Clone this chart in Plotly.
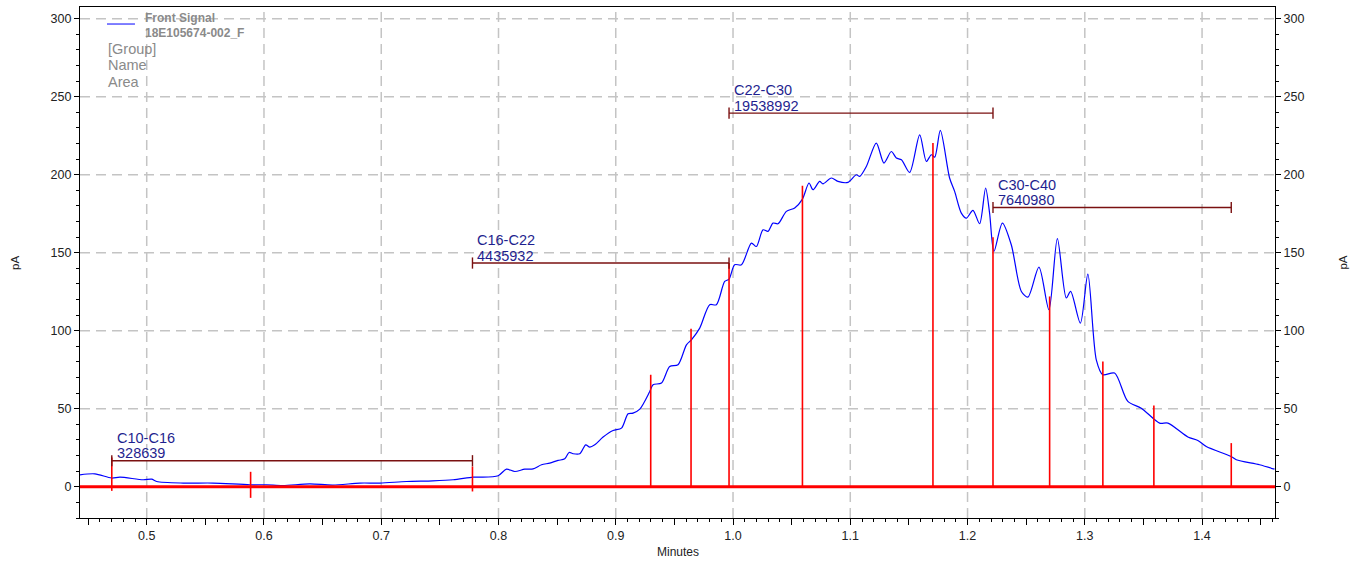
import plotly.graph_objects as go

# Front signal trace (retention time in minutes, detector response in pA)
times = [0.4431, 0.4558, 0.4701, 0.4772, 0.4970, 0.5042, 0.5085, 0.5311, 0.5564, 0.5880,
         0.6022, 0.6161, 0.6391, 0.6587, 0.6818, 0.6988, 0.7216, 0.7440, 0.7613, 0.7783,
         0.7841, 0.7997, 0.8068, 0.8139, 0.8224, 0.8295, 0.8367, 0.8437, 0.8508, 0.8565,
         0.8602, 0.8636, 0.8693, 0.8744, 0.8778, 0.8821, 0.8892, 0.8977, 0.9049, 0.9105,
         0.9147, 0.9205, 0.9290, 0.9318, 0.9390, 0.9460, 0.9531, 0.9603, 0.9645, 0.9716,
         0.9801, 0.9858, 0.9929, 0.9966, 1.0014, 1.0072, 1.0157, 1.0199, 1.0256, 1.0298,
         1.0341, 1.0384, 1.0455, 1.0526, 1.0592, 1.0648, 1.0682, 1.0739, 1.0767, 1.0839,
         1.0895, 1.0980, 1.1052, 1.1080, 1.1137, 1.1222, 1.1287, 1.1350, 1.1393, 1.1436,
         1.1506, 1.1592, 1.1649, 1.1691, 1.1720, 1.1768, 1.1847, 1.1890, 1.1947, 1.1990,
         1.2046, 1.2103, 1.2154, 1.2188, 1.2225, 1.2297, 1.2373, 1.2459, 1.2515, 1.2609,
         1.2694, 1.2766, 1.2842, 1.2879, 1.2962, 1.3026, 1.3098, 1.3154, 1.3254, 1.3367,
         1.3482, 1.3638, 1.3709, 1.3879, 1.3964, 1.4036, 1.4249, 1.4292, 1.4490, 1.4618]
signal = [7.7, 8.3, 5.6, 6.2, 4.5, 4.9, 3.4, 2.4, 2.4, 1.3,
          1.3, 0.8, 1.9, 1.1, 2.4, 2.4, 3.4, 3.8, 4.5, 6.2,
          6.2, 7.1, 11.3, 9.8, 11.3, 11.5, 14.1, 15.2, 16.9, 17.9,
          22.0, 21.2, 21.2, 26.9, 25.4, 26.9, 31.9, 36.1, 37.6, 46.8,
          47.2, 49.8, 61.1, 65.4, 66.5, 77.1, 78.2, 91.0, 94.2, 101.7,
          116.7, 116.7, 131.6, 133.1, 142.3, 142.3, 156.2, 154.0, 164.7, 163.7,
          169.0, 168.6, 176.5, 178.7, 184.4, 194.7, 190.4, 195.7, 194.2, 197.9,
          195.7, 195.1, 200.0, 198.9, 205.3, 220.3, 207.5, 214.9, 210.7, 209.6,
          201.5, 225.6, 208.5, 212.8, 211.3, 228.4, 197.9, 189.3, 175.4, 172.2,
          177.2, 168.6, 191.5, 175.4, 150.8, 169.0, 155.1, 125.2, 121.6, 140.8,
          113.5, 159.0, 121.0, 125.2, 104.9, 136.3, 81.4, 71.8, 72.9, 54.7,
          50.4, 40.8, 40.8, 31.9, 29.7, 25.8, 19.4, 17.3, 14.1, 11.3]

# Integration event markers (time, top, bottom)
event_times = [0.4702, 0.5886, 0.7778, 0.9298, 0.9642, 0.9966, 1.0592,
               1.1705, 1.2217, 1.2700, 1.3154, 1.3589, 1.4249]
event_tops = [18.8, 9.6, 13.0, 71.8, 101.3, 143.4, 193.0,
              220.3, 160.0, 122.0, 80.3, 52.1, 28.0]
event_bottoms = [-2.6, -7.1, -3.0, 0, 0, 0, 0, 0, 0, 0, 0, 0, 0]

# Carbon range groups
group_names = ["C10-C16", "C16-C22", "C22-C30", "C30-C40"]
group_areas = ["328639", "4435932", "19538992", "7640980"]
group_starts = [0.4702, 0.7778, 0.9966, 1.2217]
group_ends = [0.7778, 0.9966, 1.2217, 1.4249]
group_levels = [16.7, 143.4, 239.5, 179.0]

# Axis ticks
x_major = [round(0.45 + 0.05 * i, 2) for i in range(21)]
x_labels = [f"{v:.1f}" if round(v * 100) % 10 == 0 else "" for v in x_major]
y_ticks = [0, 50, 100, 150, 200, 250, 300]

X_RANGE = [0.4431, 1.4622]
Y_RANGE = [-20, 307.5]

FONT = "Liberation Sans, Arial, sans-serif"
RED = "#FF0000"
BRACKET = "#7A1010"
LABEL_BLUE = "#1F1F8F"
GRID = "#C4C4C4"

fig = go.Figure()

fig.add_trace(go.Scatter(
    x=times, y=signal, mode="lines",
    line=dict(color="#0000FF", width=1.2, shape="spline", smoothing=0.8),
    hoverinfo="skip", showlegend=False,
))

# Vertical event markers
ex, ey = [], []
for t, top, bot in zip(event_times, event_tops, event_bottoms):
    ex += [t, t, None]
    ey += [bot, top, None]
fig.add_trace(go.Scatter(
    x=ex, y=ey, mode="lines", line=dict(color=RED, width=1.6),
    hoverinfo="skip", showlegend=False,
))

# Group brackets
bx, by = [], []
for s, e, lv in zip(group_starts, group_ends, group_levels):
    bx += [s, e, None]
    by += [lv, lv, None]
fig.add_trace(go.Scatter(
    x=bx, y=by, mode="lines", line=dict(color=BRACKET, width=1.4),
    hoverinfo="skip", showlegend=False,
))
fig.add_trace(go.Scatter(
    x=group_starts + group_ends, y=group_levels + group_levels, mode="markers",
    marker=dict(symbol="line-ns-open", size=8, color=BRACKET,
                line=dict(color=BRACKET, width=1.4)),
    hoverinfo="skip", showlegend=False,
))

for name, area, s, lv in zip(group_names, group_areas, group_starts, group_levels):
    for txt, dy in ((name, 23), (area, 7.5)):
        fig.add_annotation(
            x=s, y=lv, xref="x", yref="y", text=txt, showarrow=False,
            xanchor="left", yanchor="middle", xshift=3, yshift=dy,
            font=dict(family=FONT, size=14.5, color=LABEL_BLUE),
        )

# Zero baseline
fig.add_shape(type="line", xref="paper", yref="y", x0=0, x1=1, y0=0, y1=0,
              line=dict(color=RED, width=3))

# Legend block
fig.add_shape(type="line", xref="paper", yref="paper", x0=0.0226, x1=0.046,
              y0=0.9667, y1=0.9667, line=dict(color="#0000FF", width=1))
legend_lines = [
    ("<b>Front Signal</b>", 0.0535, 0.9775, 12),
    ("<b>18E105674-002_F</b>", 0.0535, 0.9491, 12),
    ("[Group]", 0.0226, 0.9178, 14.5),
    ("Name", 0.0226, 0.8865, 14.5),
    ("Area", 0.0226, 0.8532, 14.5),
]
for txt, px, py, fs in legend_lines:
    fig.add_annotation(x=px, y=py, xref="paper", yref="paper", text=txt,
                       showarrow=False, xanchor="left", yanchor="middle",
                       xshift=-1, font=dict(family=FONT, size=fs, color="#8A8A8A"))

# Axis titles
fig.add_annotation(x=0.5002, y=-0.0675, xref="paper", yref="paper", text="Minutes",
                   showarrow=False, xanchor="center", yanchor="middle",
                   font=dict(family=FONT, size=12, color="#222222"))
for px in (-0.0544, 1.0565):
    fig.add_annotation(x=px, y=0.499, xref="paper", yref="paper", text="pA",
                       showarrow=False, textangle=-90, xanchor="center", yanchor="middle",
                       font=dict(family=FONT, size=11.5, color="#222222"))

yaxis_common = dict(
    range=Y_RANGE, tickmode="array", tickvals=y_ticks,
    ticks="outside", ticklen=5, tickwidth=1, tickcolor="#000000",
    showline=True, linecolor="#000000", linewidth=1.2,
    tickfont=dict(family=FONT, size=12.5, color="#222222"),
    zeroline=False,
    minor=dict(tickmode="linear", tick0=0, dtick=10, ticks="outside",
               ticklen=3, tickcolor="#000000", showgrid=False),
)

fig.update_layout(
    width=1364, height=565,
    margin=dict(l=80, r=88.5, t=7, b=47),
    paper_bgcolor="white", plot_bgcolor="white",
    showlegend=False,
    xaxis=dict(
        range=X_RANGE, tickmode="array", tickvals=x_major, ticktext=x_labels,
        ticks="outside", ticklen=6, tickwidth=1, tickcolor="#000000",
        showline=True, linecolor="#000000", linewidth=1.2, mirror=True,
        showgrid=False, zeroline=False,
        tickfont=dict(family=FONT, size=12.5, color="#222222"),
        minor=dict(tickmode="linear", tick0=0, dtick=0.01, ticks="outside",
                   ticklen=3, tickcolor="#000000", showgrid=False),
    ),
    yaxis=dict(showgrid=False, mirror=True, **yaxis_common),
    yaxis2=dict(overlaying="y", side="right", showgrid=False, **yaxis_common),
)

# Dashed grid
for v in [0.5, 0.6, 0.7, 0.8, 0.9, 1.0, 1.1, 1.2, 1.3, 1.4]:
    fig.add_shape(type="line", xref="x", yref="paper", x0=v, x1=v, y0=0, y1=1,
                  line=dict(color=GRID, width=1.5, dash="10px,6px"), layer="below")
for v in y_ticks:
    fig.add_shape(type="line", xref="paper", yref="y", x0=0, x1=1, y0=v, y1=v,
                  line=dict(color=GRID, width=1.5, dash="10px,6px"), layer="below")

# Invisible trace to activate the right-hand axis
fig.add_trace(go.Scatter(x=[times[0]], y=[signal[0]], yaxis="y2", mode="lines",
                         line=dict(width=0), hoverinfo="skip", showlegend=False))

fig.write_html("out.html")
